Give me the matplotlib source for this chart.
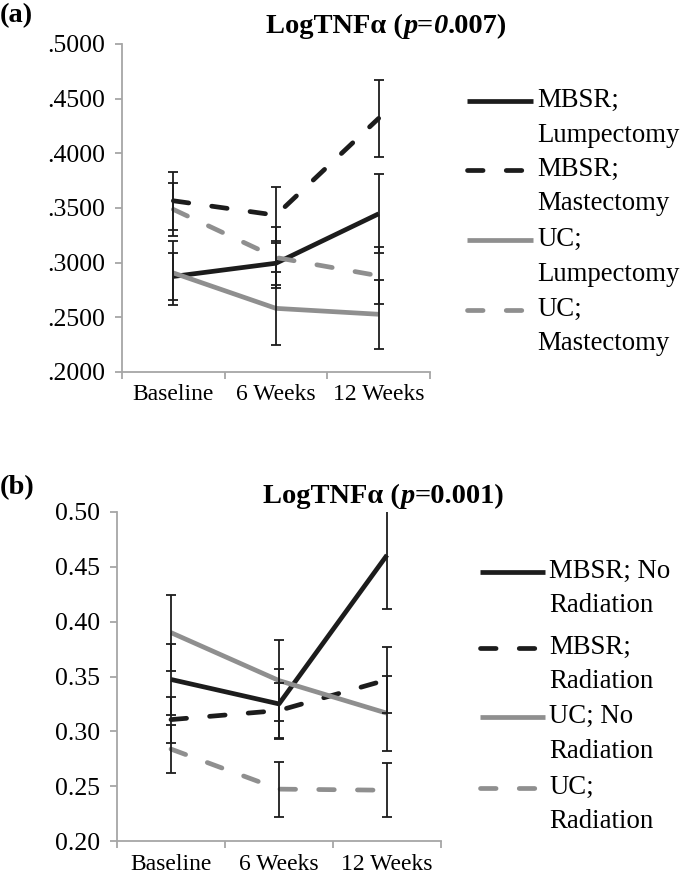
import matplotlib
matplotlib.use('Agg')
import matplotlib.pyplot as plt
from matplotlib.lines import Line2D

plt.rcParams['font.family'] = ['Liberation Serif', 'DejaVu Serif']

weeks = ['Baseline', '6 Weeks', '12 Weeks']

# panel (a) - surgery type
a_labels = ['MBSR;\nLumpectomy', 'MBSR;\nMastectomy', 'UC;\nLumpectomy', 'UC;\nMastectomy']
a_mbsr_lump = [0.2874, 0.2995, 0.3447]
a_mbsr_mast = [0.3566, 0.3434, 0.4320]
a_uc_lump = [0.2906, 0.2582, 0.2528]
a_uc_mast = [0.3487, 0.3047, 0.2880]
a_mbsr_lump_err = [0.0214, 0.0200, 0.0361]
a_mbsr_mast_err = [0.0267, 0.0258, 0.0355]
a_uc_lump_err = [0.0293, 0.0337, 0.0314]
a_uc_mast_err = [0.0243, 0.0283, 0.0260]
a_ticks = [.20, .25, .30, .35, .40, .45, .50]
a_ticklabels = ['.2000', '.2500', '.3000', '.3500', '.4000', '.4500', '.5000']

# panel (b) - radiation
b_labels = ['MBSR; No\nRadiation', 'MBSR;\nRadiation', 'UC; No\nRadiation', 'UC;\nRadiation']
b_mbsr_norad = [0.3473, 0.3250, 0.4607]
b_mbsr_rad = [0.3107, 0.3190, 0.3470]
b_uc_norad = [0.3900, 0.3463, 0.3165]
b_uc_rad = [0.2838, 0.2473, 0.2463]
b_mbsr_norad_err = [0.0326, 0.0320, 0.0494]
b_mbsr_rad_err = [0.0210, 0.0250, 0.0300]
b_uc_norad_err = [0.0347, 0.0372, 0.0340]
b_uc_rad_err = [0.0222, 0.0250, 0.0245]
b_ticks = [.20, .25, .30, .35, .40, .45, .50]
b_ticklabels = ['0.20', '0.25', '0.30', '0.35', '0.40', '0.45', '0.50']

BLACK = '#1c1c1c'
GRAY = '#8f8f8f'
SPINE = '#a6a6a6'
styles = [(BLACK, '-'), (BLACK, '--'), (GRAY, '-'), (GRAY, '--')]
LW = 3.4
DASH = (3.3, 4.9)

W, H = 680, 881
fig = plt.figure(figsize=(6.8, 8.81), dpi=100)


def px_axes(left, top, right, bottom):
    return fig.add_axes([left / W, 1 - bottom / H, (right - left) / W, (bottom - top) / H])


def set_line(line, ls):
    line.set_solid_capstyle('butt')
    if ls == '--':
        line.set_dashes(DASH)
        line.set_dash_capstyle('round')


def draw_panel(ax, series, errs, ticks, ticklabels):
    x = range(len(weeks))
    for (color, ls), vals in zip(styles, series):
        ln, = ax.plot(x, vals, color=color, lw=LW, zorder=2)
        set_line(ln, ls)
    for vals, err in zip(series, errs):
        ax.errorbar(x, vals, yerr=err, fmt='none', ecolor=BLACK, elinewidth=1.3,
                    capsize=3.8, capthick=1.3, zorder=3)
    ax.set_xlim(-0.5, 2.5)
    ax.set_ylim(0.2, 0.5)
    ax.set_yticks(ticks)
    ax.set_yticklabels(ticklabels, fontsize=18.5)
    ax.set_xticks([0, 1, 2])
    ax.set_xticklabels(weeks, fontsize=17)
    ax.set_xticks([-0.5, 0.5, 1.5, 2.5], minor=True)
    ax.tick_params(axis='x', which='major', length=0, pad=9)
    ax.tick_params(axis='x', which='minor', length=5, width=1.3, color=SPINE, direction='out')
    ax.tick_params(axis='y', length=5, width=1.3, color=SPINE, pad=7)
    for s in ['top', 'right']:
        ax.spines[s].set_visible(False)
    for s in ['left', 'bottom']:
        ax.spines[s].set_color(SPINE)
        ax.spines[s].set_linewidth(1.3)


def draw_legend(labels, x0, x1, ys):
    for (color, ls), lab, y in zip(styles, labels, ys):
        ln = Line2D([x0 / W, x1 / W], [1 - y / H, 1 - y / H], transform=fig.transFigure,
                    color=color, lw=LW)
        set_line(ln, ls)
        fig.add_artist(ln)
        fig.text((x1 + 4) / W, 1 - (y - 13) / H, lab, fontsize=19.3, va='top', ha='left',
                 linespacing=1.5)


def draw_title(ax, x, y, pieces):
    prev = None
    for s, style in pieces:
        if prev is None:
            prev = ax.text(x / W, 1 - y / H, s, transform=fig.transFigure, fontsize=20.5,
                           fontweight='bold', style=style, va='bottom', ha='left')
        else:
            prev = ax.annotate(s, xy=(1, 0), xycoords=prev, fontsize=20.5, fontweight='bold',
                               style=style, va='bottom', ha='left', annotation_clip=False)


ax1 = px_axes(122, 44, 430, 372)
draw_panel(ax1, [a_mbsr_lump, a_mbsr_mast, a_uc_lump, a_uc_mast],
           [a_mbsr_lump_err, a_mbsr_mast_err, a_uc_lump_err, a_uc_mast_err],
           a_ticks, a_ticklabels)
draw_legend(a_labels, 467, 533, [101, 170, 240, 310])
draw_title(ax1, 266, 39, [('LogTNFα (', 'normal'), ('p', 'italic'), ('=', 'normal'),
                          ('0', 'italic'), ('.007)', 'normal')])
fig.text(0 / W, 1 - 16 / H, '(a)', fontsize=20.5, fontweight='bold', va='center', ha='left')

ax2 = px_axes(117, 512, 441, 841)
draw_panel(ax2, [b_mbsr_norad, b_mbsr_rad, b_uc_norad, b_uc_rad],
           [b_mbsr_norad_err, b_mbsr_rad_err, b_uc_norad_err, b_uc_rad_err],
           b_ticks, b_ticklabels)
draw_legend(b_labels, 480, 545, [572, 648, 717, 788])
draw_title(ax2, 263, 509, [('LogTNFα (', 'normal'), ('p', 'italic'), ('=0.001)', 'normal')])
fig.text(0 / W, 1 - 488 / H, '(b)', fontsize=20.5, fontweight='bold', va='center', ha='left')

fig.savefig('out.png', dpi=100)
